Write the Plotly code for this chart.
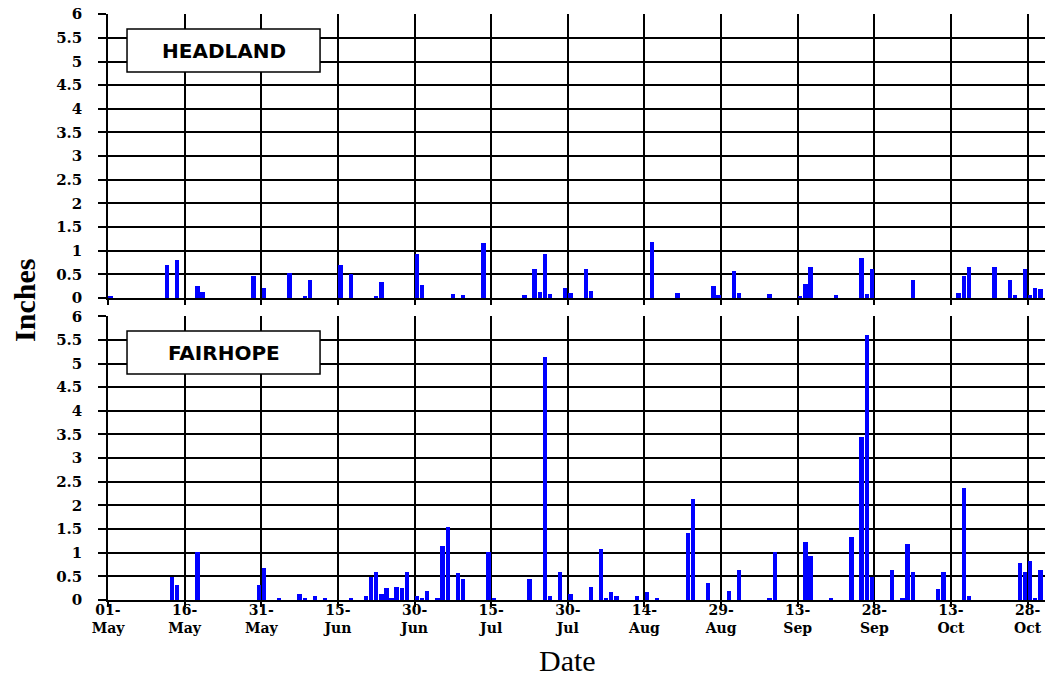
import plotly.graph_objects as go

# ---------------- data (daily rainfall, inches) ----------------
headland_dates = [
    "2003-05-01", "2003-05-12", "2003-05-14", "2003-05-18", "2003-05-19", "2003-05-29",
    "2003-05-31", "2003-06-05", "2003-06-08", "2003-06-09", "2003-06-15", "2003-06-17",
    "2003-06-22", "2003-06-23", "2003-06-30", "2003-07-01", "2003-07-07", "2003-07-09",
    "2003-07-13", "2003-07-21", "2003-07-23", "2003-07-24", "2003-07-25", "2003-07-26",
    "2003-07-29", "2003-07-30", "2003-08-02", "2003-08-03", "2003-08-15", "2003-08-20",
    "2003-08-27", "2003-08-28", "2003-08-31", "2003-09-01", "2003-09-07", "2003-09-13",
    "2003-09-14", "2003-09-15", "2003-09-20", "2003-09-25", "2003-09-26", "2003-09-27",
    "2003-10-05", "2003-10-14", "2003-10-15", "2003-10-16", "2003-10-21", "2003-10-24",
    "2003-10-25", "2003-10-27", "2003-10-28", "2003-10-29", "2003-10-30",
]
headland_inches = [
    0.05, 0.69, 0.81, 0.25, 0.12, 0.46,
    0.21, 0.52, 0.05, 0.37, 0.69, 0.51,
    0.05, 0.34, 0.92, 0.28, 0.09, 0.06,
    1.16, 0.06, 0.61, 0.13, 0.93, 0.09,
    0.21, 0.10, 0.61, 0.14, 1.19, 0.10,
    0.26, 0.06, 0.57, 0.10, 0.09, 0.05,
    0.30, 0.65, 0.06, 0.85, 0.09, 0.61,
    0.37, 0.10, 0.46, 0.65, 0.65, 0.37,
    0.06, 0.61, 0.07, 0.21, 0.20,
]

fairhope_dates = [
    "2003-05-13", "2003-05-14", "2003-05-18", "2003-05-30", "2003-05-31", "2003-06-03",
    "2003-06-07", "2003-06-08", "2003-06-10", "2003-06-12", "2003-06-17", "2003-06-20",
    "2003-06-21", "2003-06-22", "2003-06-23", "2003-06-24", "2003-06-25", "2003-06-26",
    "2003-06-27", "2003-06-28", "2003-06-30", "2003-07-01", "2003-07-02", "2003-07-04",
    "2003-07-05", "2003-07-06", "2003-07-08", "2003-07-09", "2003-07-14", "2003-07-15",
    "2003-07-22", "2003-07-25", "2003-07-26", "2003-07-28", "2003-07-30", "2003-08-03",
    "2003-08-05", "2003-08-06", "2003-08-07", "2003-08-08", "2003-08-12", "2003-08-14",
    "2003-08-16", "2003-08-22", "2003-08-23", "2003-08-26", "2003-08-30", "2003-09-01",
    "2003-09-07", "2003-09-08", "2003-09-14", "2003-09-15", "2003-09-19", "2003-09-23",
    "2003-09-25", "2003-09-26", "2003-09-27", "2003-10-01", "2003-10-03", "2003-10-04",
    "2003-10-05", "2003-10-10", "2003-10-11", "2003-10-15", "2003-10-16", "2003-10-26",
    "2003-10-27", "2003-10-28", "2003-10-29", "2003-10-30",
]
fairhope_inches = [
    0.49, 0.32, 1.01, 0.32, 0.68, 0.05,
    0.12, 0.04, 0.08, 0.04, 0.05, 0.09,
    0.48, 0.60, 0.13, 0.25, 0.04, 0.27,
    0.25, 0.59, 0.08, 0.04, 0.20, 0.04,
    1.14, 1.55, 0.56, 0.44, 1.01, 0.05,
    0.44, 5.13, 0.08, 0.60, 0.13, 0.28,
    1.07, 0.04, 0.16, 0.09, 0.09, 0.16,
    0.05, 1.42, 2.13, 0.35, 0.20, 0.63,
    0.04, 1.01, 1.23, 0.93, 0.05, 1.34,
    3.45, 5.60, 0.49, 0.63, 0.04, 1.18,
    0.59, 0.24, 0.59, 2.37, 0.08, 0.79,
    0.59, 0.83, 0.04, 0.63,
]

tick_dates = [
    "2003-05-01", "2003-05-16", "2003-05-31", "2003-06-15", "2003-06-30", "2003-07-15",
    "2003-07-30", "2003-08-14", "2003-08-29", "2003-09-13", "2003-09-28", "2003-10-13",
    "2003-10-28",
]
tick_labels = [
    "01-<br>May", "16-<br>May", "31-<br>May", "15-<br>Jun", "30-<br>Jun", "15-<br>Jul",
    "30-<br>Jul", "14-<br>Aug", "29-<br>Aug", "13-<br>Sep", "28-<br>Sep", "13-<br>Oct",
    "28-<br>Oct",
]
y_ticks = [0, 0.5, 1, 1.5, 2, 2.5, 3, 3.5, 4, 4.5, 5, 5.5, 6]
y_labels = ["0", "0.5", "1", "1.5", "2", "2.5", "3", "3.5", "4", "4.5", "5", "5.5", "6"]
station_names = ["HEADLAND", "FAIRHOPE"]

# ---------------- figure ----------------
DAY_MS = 86400000
BLUE = "#0000FF"
SERIF = "Liberation Serif, Times New Roman, serif"
TICKSERIF = "DejaVu Serif, serif"

fig = go.Figure()
fig.add_trace(go.Bar(
    x=headland_dates, y=headland_inches, xaxis="x", yaxis="y",
    xperiod=DAY_MS, xperiodalignment="middle", width=0.85 * DAY_MS,
    marker=dict(color=BLUE, line=dict(width=0)), name=station_names[0],
))
fig.add_trace(go.Bar(
    x=fairhope_dates, y=fairhope_inches, xaxis="x2", yaxis="y2",
    xperiod=DAY_MS, xperiodalignment="middle", width=0.85 * DAY_MS,
    marker=dict(color=BLUE, line=dict(width=0)), name=station_names[1],
))

x_range = ["2003-05-01", "2003-10-31 09:36"]
xcommon = dict(
    type="date", range=x_range, tickvals=tick_dates, ticktext=tick_labels,
    showgrid=True, gridcolor="black", gridwidth=1.5,
    showline=True, linecolor="black", linewidth=1.5,
    ticks="outside", ticklen=5, tickcolor="black", tickwidth=1.5,
    tickfont=dict(family=TICKSERIF, size=14, color="black", weight="bold"),
    fixedrange=True, automargin=False, ticklabeloverflow="allow",
)
ycommon = dict(
    range=[0, 6.005], tickvals=y_ticks, ticktext=y_labels,
    showgrid=True, gridcolor="black", gridwidth=1.5, zeroline=False,
    showline=True, linecolor="black", linewidth=1.5,
    ticks="outside", ticklen=8, tickcolor="black", tickwidth=1.5,
    tickfont=dict(family=TICKSERIF, size=15, color="black", weight="bold"),
    ticklabelstandoff=13, automargin=False, ticklabeloverflow="allow",
    fixedrange=True,
)

fig.update_layout(
    width=1047, height=688,
    margin=dict(l=108, r=2, t=14, b=88),
    paper_bgcolor="white", plot_bgcolor="white",
    showlegend=False, bargap=0, hovermode=False,
    xaxis=dict(xcommon, domain=[0, 1], anchor="y", showticklabels=False),
    yaxis=dict(ycommon, domain=[0.5154, 1], anchor="x"),
    xaxis2=dict(xcommon, domain=[0, 1], anchor="y2", ticklabelstandoff=-9),
    yaxis2=dict(ycommon, domain=[0, 0.4846], anchor="x2"),
)

# station label boxes
box_specs = [(0.9744, 0.9010), (0.4590, 0.3857)]
for name, (y1, y0) in zip(station_names, box_specs):
    fig.add_shape(type="rect", xref="paper", yref="paper",
                  x0=0.0203, x1=0.2263, y0=y0, y1=y1,
                  fillcolor="white", line=dict(color="black", width=1.5), layer="above")
    fig.add_annotation(xref="paper", yref="paper", x=0.1233, y=(y0 + y1) / 2,
                       text=name, showarrow=False, xanchor="center", yanchor="middle",
                       font=dict(family="DejaVu Sans", size=20, color="black", weight="bold"))

fig.add_annotation(xref="paper", yref="paper", x=-0.0886, y=0.512, text="Inches",
                   textangle=-90, showarrow=False, xanchor="center", yanchor="middle",
                   font=dict(family=SERIF, size=30, color="black", weight="bold"))
fig.add_annotation(xref="paper", yref="paper", x=0.49, y=-0.104, text="Date",
                   showarrow=False, xanchor="center", yanchor="middle",
                   font=dict(family=SERIF, size=30, color="black"))

# remove the browser's default 8px page margin so the figure fills the window
fig.write_html("out.html", config={"displayModeBar": False},
               post_script="document.body.style.margin = '0px';")
